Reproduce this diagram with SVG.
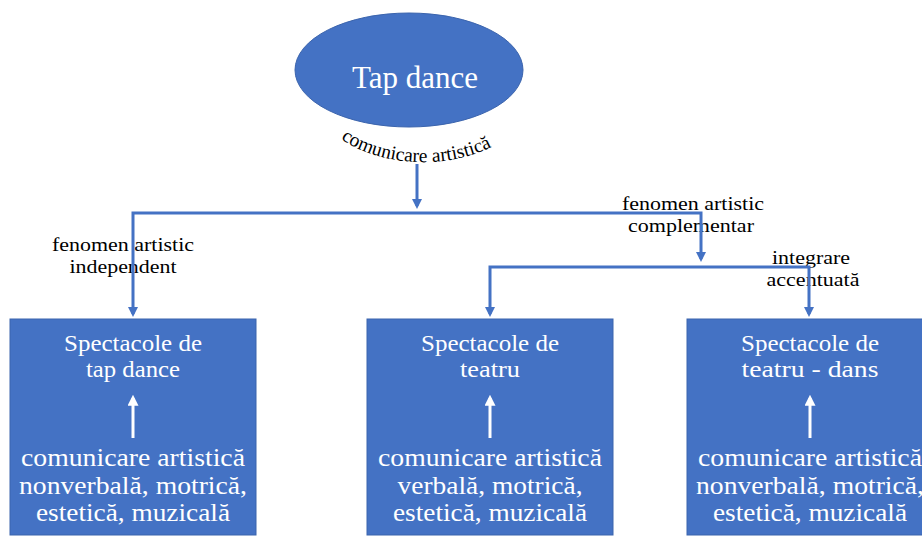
<svg xmlns="http://www.w3.org/2000/svg" width="922" height="538" viewBox="0 0 922 538">
<style>
.node{fill:#4472C4;stroke:#3B64AD;stroke-width:1}
.conn{fill:none;stroke:#4472C4;stroke-width:3}
.warr{fill:none;stroke:#FFFFFF;stroke-width:3}
.wt{fill:#FFFFFF;font-family:"Liberation Serif","Times New Roman",serif;text-anchor:middle}
.t1{font-size:23px}
.t2{font-size:24.5px}
.lbl{fill:#000000;font-family:"Liberation Serif","Times New Roman",serif;font-size:19.5px;text-anchor:middle}
</style>
<defs>
<marker id="ah" viewBox="0 0 10 10" refX="7" refY="5" markerWidth="10" markerHeight="10" markerUnits="userSpaceOnUse" orient="auto-start-reverse">
<path d="M0,0 L10,5 L0,10 z" fill="#4472C4"/>
</marker>
<marker id="wh" viewBox="0 0 10 10" refX="7" refY="5" markerWidth="11" markerHeight="11" markerUnits="userSpaceOnUse" orient="auto">
<path d="M0,0 L10,5 L0,10 z" fill="#FFFFFF"/>
</marker>
<path id="arc" d="M312,108 A118 82 0 0 0 534,108"/>
</defs>

<g id="node-tapdance">
<ellipse class="node" cx="409" cy="70" rx="114" ry="57"/>
<text class="wt" x="415" y="88" font-size="31">Tap dance</text>
<text class="lbl" font-size="21.5"><textPath href="#arc" startOffset="47%">comunicare artistică</textPath></text>
</g>

<g id="node-spectacole-tap">
<rect class="node" x="10" y="319" width="246" height="216"/>
<text class="wt t1" x="133" y="351" textLength="138" lengthAdjust="spacingAndGlyphs">Spectacole de</text>
<text class="wt t1" x="133" y="377" textLength="94" lengthAdjust="spacingAndGlyphs">tap dance</text>
<path class="warr" d="M133,438 V398" marker-end="url(#wh)"/>
<text class="wt t2" x="133" y="466" textLength="224" lengthAdjust="spacingAndGlyphs">comunicare artistică</text>
<text class="wt t2" x="133" y="493.5" textLength="228" lengthAdjust="spacingAndGlyphs">nonverbală, motrică,</text>
<text class="wt t2" x="133" y="521" textLength="194" lengthAdjust="spacingAndGlyphs">estetică, muzicală</text>
</g>

<g id="node-spectacole-teatru">
<rect class="node" x="367" y="319" width="246" height="216"/>
<text class="wt t1" x="490" y="351" textLength="138" lengthAdjust="spacingAndGlyphs">Spectacole de</text>
<text class="wt t1" x="490" y="377" textLength="60" lengthAdjust="spacingAndGlyphs">teatru</text>
<path class="warr" d="M490,438 V398" marker-end="url(#wh)"/>
<text class="wt t2" x="490" y="466" textLength="224" lengthAdjust="spacingAndGlyphs">comunicare artistică</text>
<text class="wt t2" x="490" y="493.5" textLength="185" lengthAdjust="spacingAndGlyphs">verbală, motrică,</text>
<text class="wt t2" x="490" y="521" textLength="194" lengthAdjust="spacingAndGlyphs">estetică, muzicală</text>
</g>

<g id="node-spectacole-teatru-dans">
<rect class="node" x="687" y="319" width="246" height="216"/>
<text class="wt t1" x="810" y="351" textLength="138" lengthAdjust="spacingAndGlyphs">Spectacole de</text>
<text class="wt t1" x="810" y="377" textLength="137" lengthAdjust="spacingAndGlyphs">teatru - dans</text>
<path class="warr" d="M810,438 V398" marker-end="url(#wh)"/>
<text class="wt t2" x="810" y="466" textLength="224" lengthAdjust="spacingAndGlyphs">comunicare artistică</text>
<text class="wt t2" x="810" y="493.5" textLength="228" lengthAdjust="spacingAndGlyphs">nonverbală, motrică,</text>
<text class="wt t2" x="810" y="521" textLength="194" lengthAdjust="spacingAndGlyphs">estetică, muzicală</text>
</g>

<g id="labels">
<text class="lbl" x="123" y="251" textLength="142" lengthAdjust="spacingAndGlyphs">fenomen artistic</text>
<text class="lbl" x="123" y="272.5" textLength="107" lengthAdjust="spacingAndGlyphs">independent</text>
<text class="lbl" x="693" y="210" textLength="142" lengthAdjust="spacingAndGlyphs">fenomen artistic</text>
<text class="lbl" x="691" y="231.5" textLength="126" lengthAdjust="spacingAndGlyphs">complementar</text>
<text class="lbl" x="811" y="264" textLength="78" lengthAdjust="spacingAndGlyphs">integrare</text>
<text class="lbl" x="813" y="285.5" textLength="93" lengthAdjust="spacingAndGlyphs">accentuată</text>
</g>

<g id="connectors">
<path class="conn" d="M417,164 V206" marker-end="url(#ah)"/>
<path class="conn" d="M133,314 V213 H701 V259" marker-start="url(#ah)" marker-end="url(#ah)"/>
<path class="conn" d="M490,314 V267 H809 V314" marker-start="url(#ah)" marker-end="url(#ah)"/>
</g>
</svg>
